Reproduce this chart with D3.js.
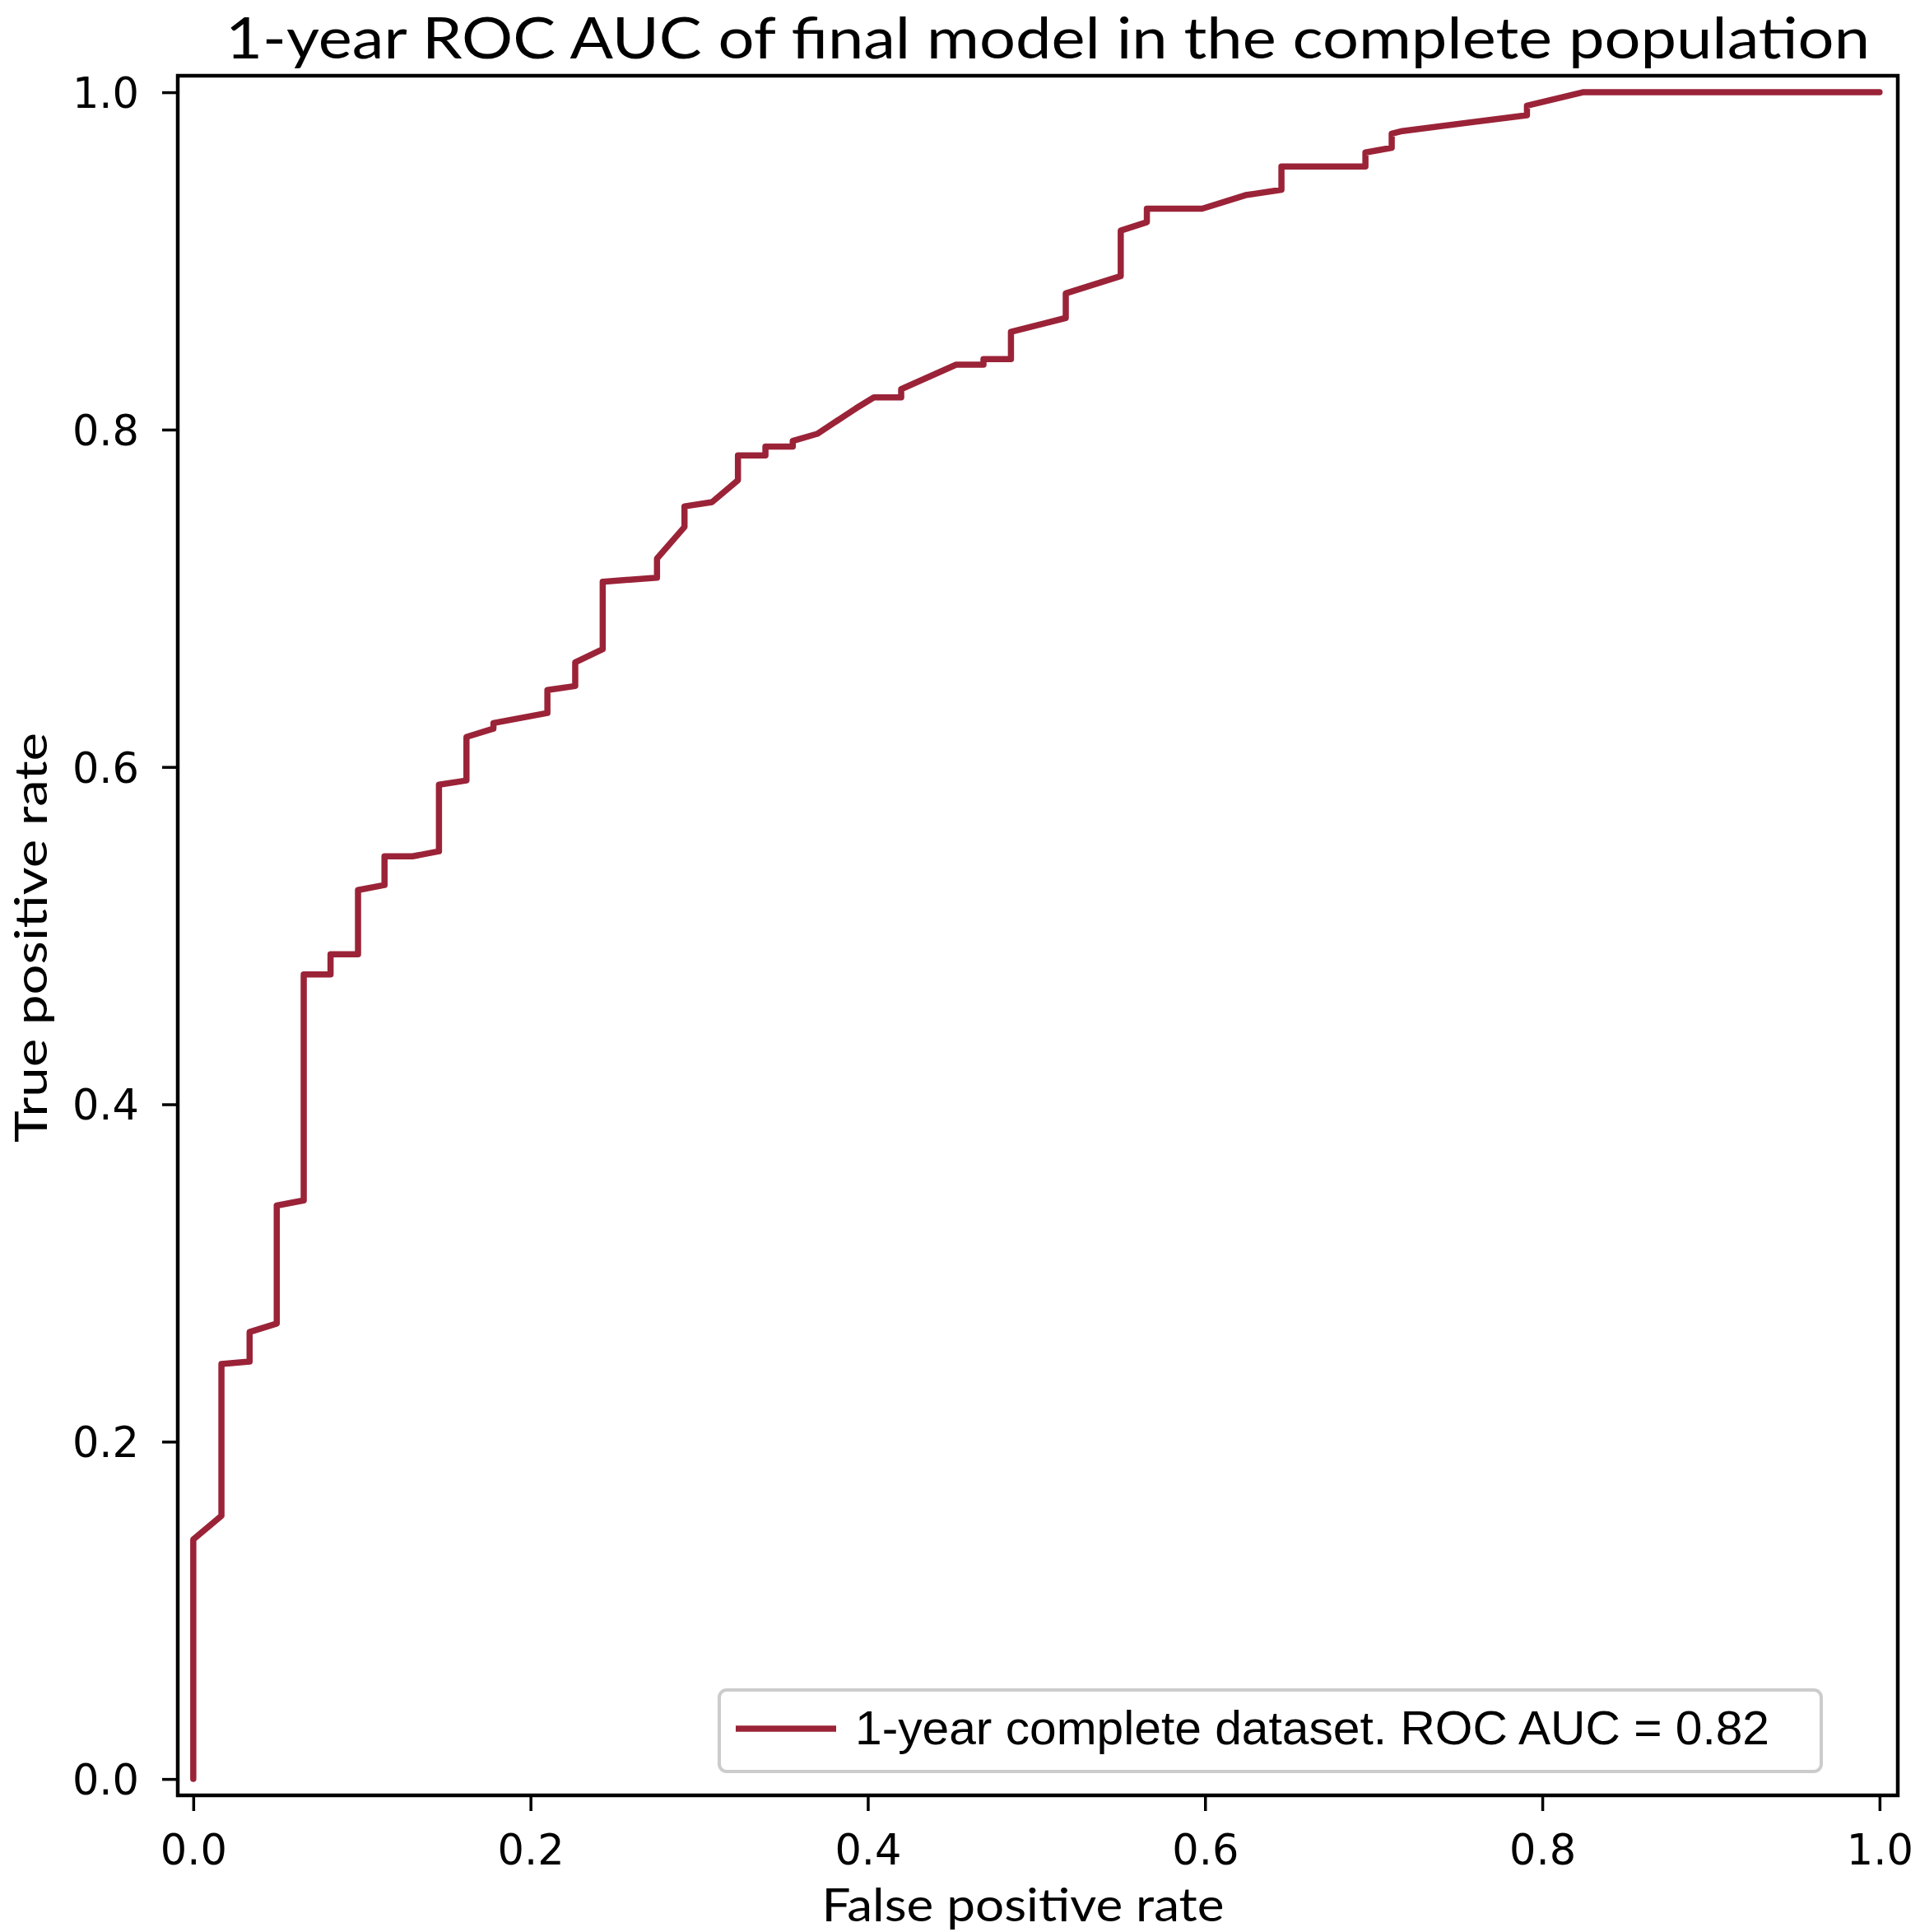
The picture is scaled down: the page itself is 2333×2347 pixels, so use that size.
<!DOCTYPE html>
<html>
<head>
<meta charset="utf-8">
<script src="https://cdn.jsdelivr.net/npm/d3@7"></script>
<style>
  html, body { margin: 0; padding: 0; background: #ffffff; }
  svg { display: block; }
</style>
</head>
<body>
<svg id="chart" width="2333" height="2347"></svg>
<script>
// ---- data ----
const titleText = "1-year ROC AUC of final model in the complete population";
const xLabelText = "False positive rate";
const yLabelText = "True positive rate";
const legendText = "1-year complete dataset. ROC AUC = 0.82";
const xTicks = [0.0, 0.2, 0.4, 0.6, 0.8, 1.0];
const yTicks = [0.0, 0.2, 0.4, 0.6, 0.8, 1.0];

const fpr = [0, 0, 0.0167, 0.0167, 0.0334, 0.0334, 0.0495, 0.0495, 0.0655, 0.0655,
  0.0814, 0.0814, 0.0977, 0.0977, 0.1134, 0.1134, 0.130, 0.1457, 0.1457, 0.162,
  0.162, 0.178, 0.178, 0.210, 0.210, 0.2265, 0.2265, 0.2428, 0.2428, 0.275,
  0.275, 0.2913, 0.2913, 0.3076, 0.323, 0.323, 0.3393, 0.3393, 0.3555, 0.3555,
  0.370, 0.393, 0.4036, 0.4198, 0.4198, 0.4524, 0.4686, 0.4686, 0.4849, 0.4849,
  0.5174, 0.5174, 0.550, 0.550, 0.5655, 0.5655, 0.5983, 0.624, 0.6453, 0.6453,
  0.6951, 0.6951, 0.7107, 0.7107, 0.717, 0.7909, 0.7909, 0.824, 1.0];
const tpr = [0, 0.142, 0.156, 0.246, 0.2475, 0.265, 0.270, 0.340, 0.343, 0.477,
  0.477, 0.489, 0.489, 0.527, 0.530, 0.547, 0.547, 0.550, 0.5895, 0.592,
  0.6178, 0.6227, 0.626, 0.632, 0.6456, 0.648, 0.662, 0.6698, 0.7098, 0.7122,
  0.7236, 0.7423, 0.7545, 0.757, 0.770, 0.7847, 0.7847, 0.790, 0.790, 0.7933,
  0.7975, 0.8126, 0.8191, 0.8191, 0.824, 0.8385, 0.8385, 0.8418, 0.8418, 0.8580,
  0.8662, 0.8808, 0.8910, 0.918, 0.923, 0.931, 0.931, 0.939, 0.9422, 0.956,
  0.956, 0.9643, 0.9671, 0.9755, 0.977, 0.9864, 0.992, 1.0, 1.0];

// ---- layout ----
const frame = { left: 216, right: 2306, top: 92, bottom: 2181 };
const lineColor = "#9b2338";
const svg = d3.select("#chart");
svg.append("rect").attr("width", 2333).attr("height", 2347).attr("fill", "#ffffff");

const x = d3.scaleLinear().domain([-0.0092, 1.0108]).range([frame.left, frame.right]);
const y = d3.scaleLinear().domain([-0.0097, 1.0098]).range([frame.bottom, frame.top]);

// curve
const pts = fpr.map((v, i) => [v, tpr[i]]);
const line = d3.line().x(d => x(d[0])).y(d => y(d[1]));
svg.append("path")
  .datum(pts)
  .attr("d", line)
  .attr("fill", "none")
  .attr("stroke", lineColor)
  .attr("stroke-width", 7.5)
  .attr("stroke-linejoin", "round")
  .attr("stroke-linecap", "round");

// frame
svg.append("rect")
  .attr("x", frame.left).attr("y", frame.top)
  .attr("width", frame.right - frame.left)
  .attr("height", frame.bottom - frame.top)
  .attr("fill", "none").attr("stroke", "#000").attr("stroke-width", 4.5);

// axes
const tickFont = "'DejaVu Sans', sans-serif";
const xAxis = d3.axisBottom(x).tickValues(xTicks).tickFormat(d3.format(".1f")).tickSize(19).tickSizeOuter(0);
const gx = svg.append("g").attr("transform", `translate(0,${frame.bottom})`).call(xAxis);
gx.select(".domain").remove();
gx.selectAll(".tick line").attr("stroke", "#000").attr("stroke-width", 3.5);
gx.selectAll(".tick text")
  .attr("y", 84).attr("dy", 0)
  .attr("font-family", tickFont).attr("font-size", 51).attr("fill", "#000");

const yAxis = d3.axisLeft(y).tickValues(yTicks).tickFormat(d3.format(".1f")).tickSize(19).tickSizeOuter(0);
const gy = svg.append("g").attr("transform", `translate(${frame.left},0)`).call(yAxis);
gy.select(".domain").remove();
gy.selectAll(".tick line").attr("stroke", "#000").attr("stroke-width", 3.5);
gy.selectAll(".tick text")
  .attr("x", -47).attr("dy", "0.36em")
  .attr("font-family", tickFont).attr("font-size", 51).attr("fill", "#000");

// title & axis labels
const labelFont = "Lato, 'Open Sans', sans-serif";
svg.append("text")
  .attr("x", 1273).attr("y", 71)
  .attr("text-anchor", "middle")
  .attr("font-family", labelFont).attr("font-size", 69)
  .attr("textLength", 1998).attr("lengthAdjust", "spacingAndGlyphs")
  .text(titleText);

svg.append("text")
  .attr("x", 1243).attr("y", 2334)
  .attr("text-anchor", "middle")
  .attr("font-family", labelFont).attr("font-size", 56)
  .attr("textLength", 489).attr("lengthAdjust", "spacingAndGlyphs")
  .text(xLabelText);

svg.append("text")
  .attr("transform", "translate(57,1139) rotate(-90)")
  .attr("text-anchor", "middle")
  .attr("font-family", labelFont).attr("font-size", 55)
  .attr("textLength", 498).attr("lengthAdjust", "spacingAndGlyphs")
  .text(yLabelText);

// legend
const lg = svg.append("g");
lg.append("rect")
  .attr("x", 874).attr("y", 2053).attr("width", 1339).attr("height", 99)
  .attr("rx", 9).attr("ry", 9)
  .attr("fill", "#ffffff").attr("fill-opacity", 0.9)
  .attr("stroke", "#cccccc").attr("stroke-width", 4);
lg.append("line")
  .attr("x1", 894).attr("x2", 1016).attr("y1", 2100).attr("y2", 2100)
  .attr("stroke", lineColor).attr("stroke-width", 7.5);
lg.append("text")
  .attr("x", 1039).attr("y", 2119)
  .attr("font-family", "'Liberation Sans Narrow', 'Liberation Sans', Arial, sans-serif")
  .attr("font-size", 57)
  .attr("textLength", 1111).attr("lengthAdjust", "spacingAndGlyphs")
  .attr("fill", "#000")
  .text(legendText);
</script>
</body>
</html>
